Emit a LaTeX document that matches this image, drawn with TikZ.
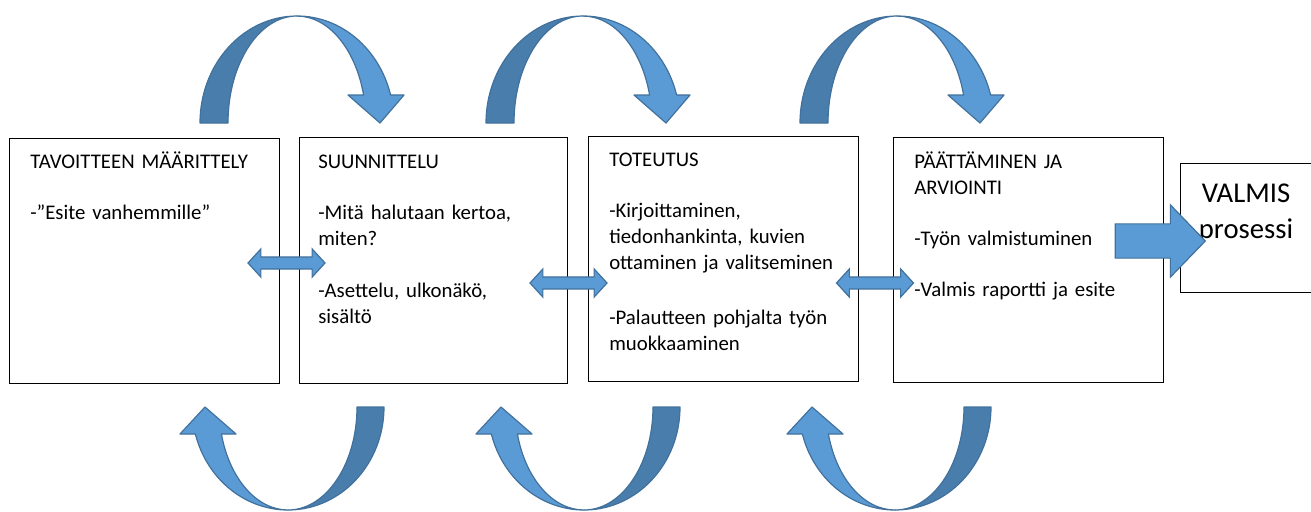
\documentclass[tikz,border=0pt]{standalone}
\usepackage{fontspec}
\setmainfont{Carlito}
\usetikzlibrary{shapes.arrows}

\definecolor{arrowfill}{RGB}{91,155,213}
\definecolor{arrowback}{RGB}{73,125,171}
\definecolor{arrowline}{RGB}{65,113,156}

\begin{document}
\begin{tikzpicture}[x=0.75pt,y=-0.75pt,
  stepbox/.style={draw=black,line width=0.8pt,anchor=north west,inner sep=0pt},
  steptext/.style={anchor=base west,inner sep=0pt,text width=190pt,align=left,
    font=\fontsize{15.6}{19.5}\selectfont},
  bandfront/.style={fill=arrowfill,draw=arrowline,line width=0.9pt,line join=round},
  bandback/.style={fill=arrowback,draw=arrowline,line width=0.9pt,line join=round},
  linkarrow/.style={double arrow,fill=arrowfill,draw=arrowline,line width=0.9pt,
    inner xsep=0pt,inner ysep=4.1pt,minimum width=20.25pt,double arrow head extend=6pt,
    double arrow tip angle=95,minimum height=57.75pt},
  donearrow/.style={single arrow,fill=arrowfill,draw=arrowline,line width=0.9pt,
    inner xsep=0pt,inner ysep=12.4pt,minimum width=53.25pt,single arrow head extend=14.25pt,
    single arrow tip angle=92,minimum height=67.5pt}]
\useasboundingbox (0,0) rectangle (1311,511);

%Shape: Curved Down Arrow
\foreach \cx in {297,583,897}{
  \draw[bandback] (\cx-97,123) arc[start angle=180,end angle=270,x radius=97,y radius=107]
    arc[start angle=270,end angle=180,x radius=69,y radius=107] -- cycle;
  \draw[bandfront] (\cx,16) arc[start angle=270,end angle=344.8,x radius=97,y radius=107]
    -- (\cx+107,95) -- (\cx+83,123) -- (\cx+51,95) -- (\cx+66.6,95)
    arc[start angle=344.8,end angle=270,x radius=69,y radius=107] -- cycle;
}
%Shape: Curved Up Arrow
\foreach \cx in {288,584,895}{
  \draw[bandback] (\cx+96,407) arc[start angle=0,end angle=90,x radius=96,y radius=103]
    arc[start angle=90,end angle=0,x radius=69,y radius=103] -- cycle;
  \draw[bandfront] (\cx,510) arc[start angle=90,end angle=164.8,x radius=96,y radius=103]
    -- (\cx-108,434) -- (\cx-83,407) -- (\cx-52,434) -- (\cx-66.6,434)
    arc[start angle=164.8,end angle=90,x radius=69,y radius=103] -- cycle;
}

%Shape: Rectangle
\node[stepbox,minimum width=202.5pt,minimum height=183.75pt] (tavoite) at (9,138) {};
\node[stepbox,minimum width=201pt,minimum height=184.5pt] (suunnittelu) at (299,137) {};
\node[stepbox,minimum width=202.5pt,minimum height=183.75pt] (toteutus) at (588,136) {};
\node[stepbox,minimum width=202.5pt,minimum height=183.75pt] (paattaminen) at (893,137) {};
\node[stepbox,minimum width=99.75pt,minimum height=96.75pt] (valmis) at (1180,163) {};

% Text Node
\node[steptext] (tavoiteText) at (30,168.5) {TAVOITTEEN MÄÄRITTELY\\[18.75pt]-”Esite vanhemmille”};
% Text Node
\node[steptext] (suunnitteluText) at (318,168.5) {SUUNNITTELU\\[18.75pt]-Mitä halutaan kertoa,\\miten?\\[19.5pt]-Asettelu, ulkonäkö,\\sisältö};
% Text Node
\node[steptext] (toteutusText) at (609,166.5) {TOTEUTUS\\[18.75pt]-Kirjoittaminen,\\tiedonhankinta, kuvien\\ottaminen ja valitseminen\\[21.75pt]-Palautteen pohjalta työn\\muokkaaminen};
% Text Node
\node[steptext] (paattaminenText) at (914,168.5) {PÄÄTTÄMINEN JA\\ARVIOINTI\\[18.75pt]-Työn valmistuminen\\[18.75pt]-Valmis raportti ja esite};
% Text Node
\node[anchor=base,inner sep=0pt,align=center,font=\fontsize{21.5}{27}\selectfont] (valmisText) at (1246,238) {VALMIS\\prosessi};

%Shape: Left Right Arrow
\node[linkarrow] (link1) at (286.5,263) {};
\node[linkarrow] (link2) at (568.5,283) {};
\node[linkarrow] (link3) at (875,283) {};
%Shape: Right Arrow
\node[donearrow] (done) at (1152,241) {};

\end{tikzpicture}
\end{document}
